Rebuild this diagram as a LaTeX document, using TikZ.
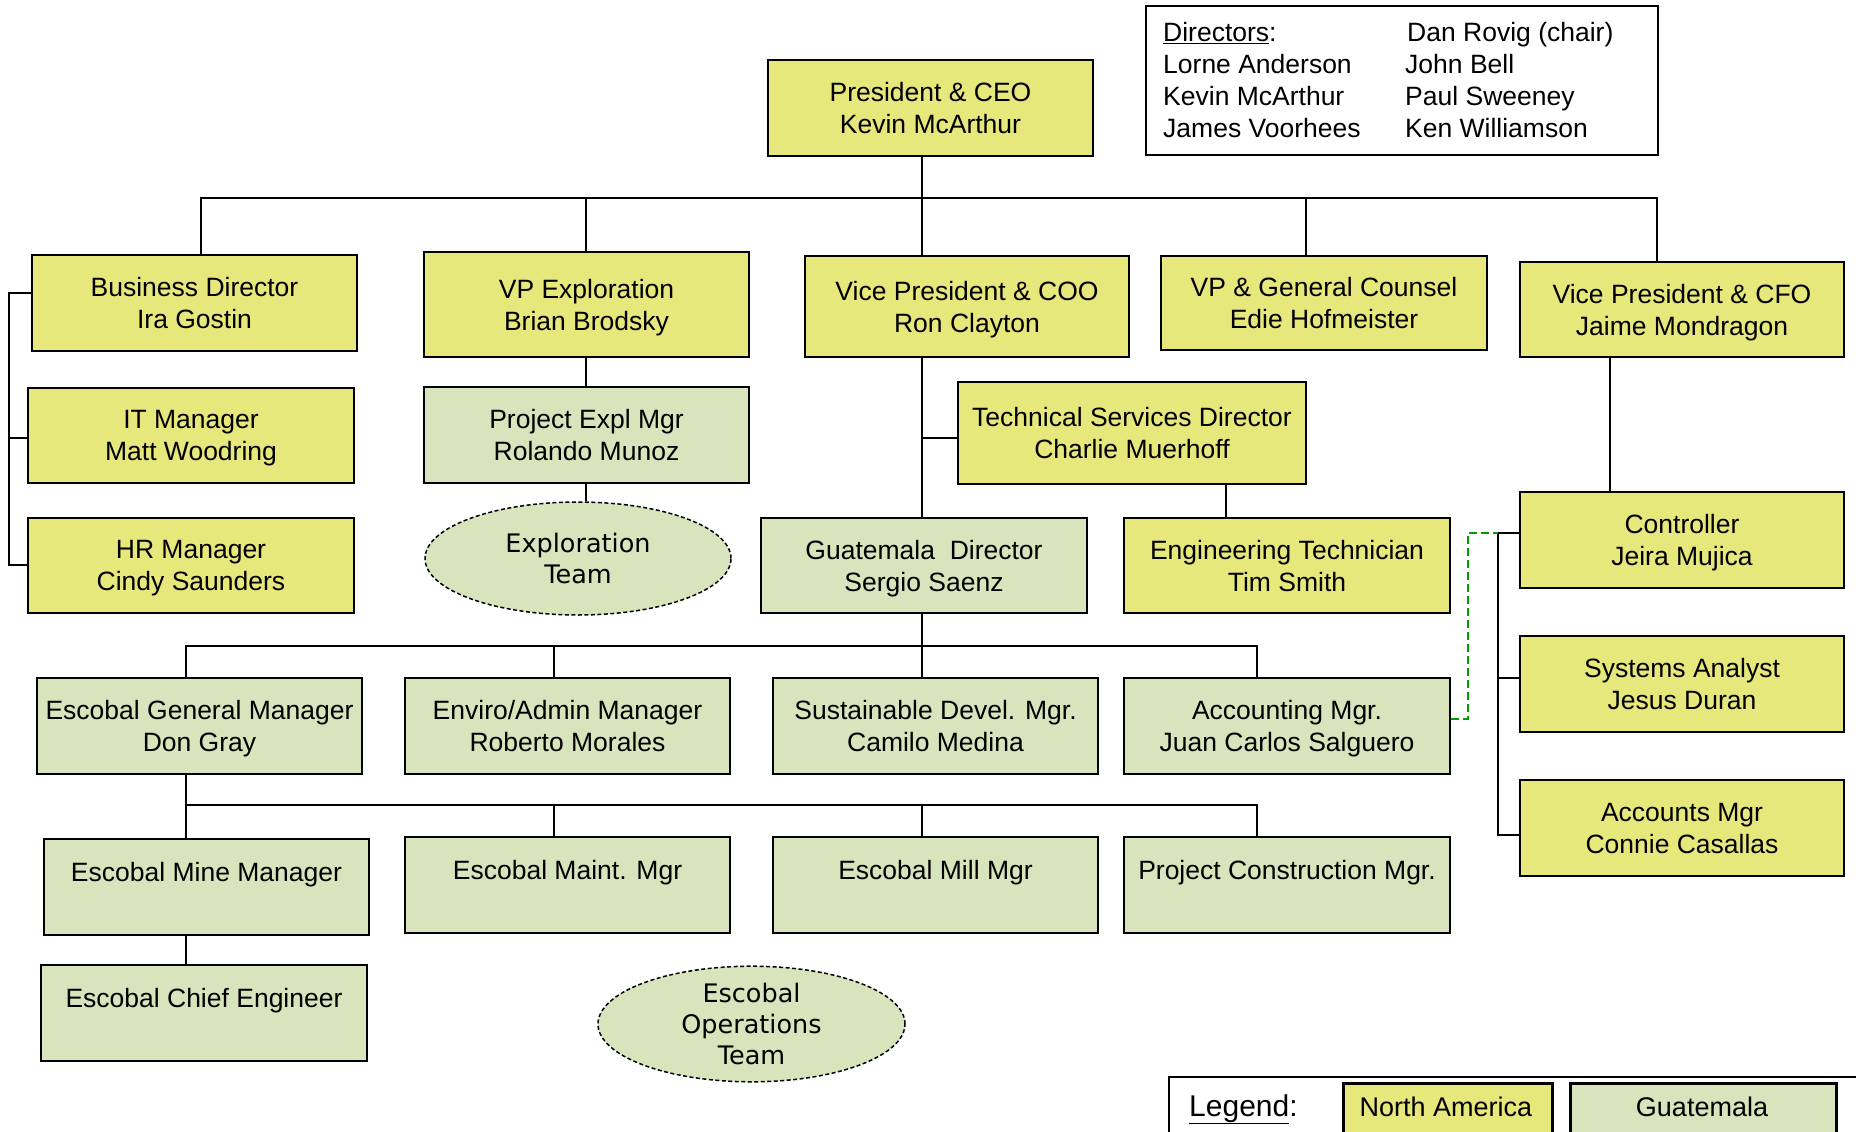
\documentclass[tikz,border=0pt]{standalone}
\usepackage{fontspec}
\setmainfont{Liberation Sans}
\newfontfamily\ellfont{DejaVu Sans}
\usetikzlibrary{shapes.geometric}
\definecolor{nayel}{RGB}{230,232,124}
\definecolor{gtgrn}{RGB}{216,228,188}
\definecolor{dashgrn}{RGB}{0,158,0}
\begin{document}
\begin{tikzpicture}[x=1pt,y=-1pt,
  box/.style={draw=black, line width=2.6pt, rectangle, minimum width=325pt, minimum height=96pt,
    align=center, font=\fontsize{26.5}{32}\selectfont, inner sep=0pt, text depth=0pt},
  na/.style={box, fill=nayel},
  gt/.style={box, fill=gtgrn},
  oneline/.style={text height=20pt, text depth=31pt},
  team/.style={ellipse, draw=black, dash pattern=on 4pt off 2.5pt, line width=1.5pt, fill=gtgrn,
    align=center, font=\ellfont\fontsize{25.5}{31}\selectfont, inner sep=0pt},
  link/.style={draw=black, line width=2.6pt, line join=miter},
  dirtxt/.style={anchor=base west, inner sep=0pt, font=\fontsize{26.5}{32}\selectfont},
  legtxt/.style={anchor=base, inner sep=0pt, font=\fontsize{27}{32}\selectfont},
]
\useasboundingbox (0,0) rectangle (1856,1132);
\clip (0,0) rectangle (1856,1132);

% ---------- boxes ----------
\node[na, minimum height=96pt] (pres) at (930.5,108) {President \& CEO\\Kevin McArthur};

\node[na] (bus) at (194.5,303) {Business Director\\Ira Gostin};
\node[na, minimum height=105pt] (vpexp) at (586.5,304.5) {VP Exploration\\Brian Brodsky};
\node[na, minimum width=324pt, minimum height=101pt] (coo) at (967,306.5) {Vice President \& COO\\Ron Clayton};
\node[na, minimum width=326pt, minimum height=94pt] (gc) at (1324,303) {VP \& General Counsel\\Edie Hofmeister};
\node[na, minimum width=324pt, minimum height=95pt] (cfo) at (1682,309.5) {Vice President \& CFO\\Jaime Mondragon};

\node[na, minimum width=326pt, minimum height=95pt] (it) at (191,435.5) {IT Manager\\Matt Woodring};
\node[na, minimum width=326pt, minimum height=95pt] (hr) at (191,565.5) {HR Manager\\Cindy Saunders};

\node[gt] (pem) at (586.5,435) {Project Expl Mgr\\Rolando Munoz};
\node[team, minimum width=306pt, minimum height=113pt] (expl) at (578,558.5) {Exploration\\Team};

\node[na, minimum width=348pt, minimum height=102pt] (tsd) at (1132,433) {Technical Services Director\\Charlie Muerhoff};
\node[na, minimum width=326pt, minimum height=95pt] (eng) at (1287,565.5) {Engineering Technician\\Tim Smith};
\node[gt, minimum width=326pt, minimum height=95pt] (gd) at (924,565.5) {Guatemala\ \ Director\\Sergio Saenz};

\node[gt] (egm) at (199.5,726) {Escobal General Manager\\Don Gray};
\node[gt] (ea) at (567.5,726) {Enviro/Admin Manager\\Roberto Morales};
\node[gt] (sd) at (935.5,726) {Sustainable Devel. Mgr.\\Camilo Medina};
\node[gt, minimum width=326pt] (am) at (1287,726) {Accounting Mgr.\\Juan Carlos Salguero};

\node[gt, oneline] (emm) at (206.5,887) {Escobal Mine Manager};
\node[gt, oneline] (emaint) at (567.5,885) {Escobal Maint. Mgr};
\node[gt, oneline] (emill) at (935.5,885) {Escobal Mill Mgr};
\node[gt, oneline, minimum width=326pt] (pcm) at (1287,885) {Project Construction Mgr.};
\node[gt, oneline, minimum width=326pt] (ece) at (204,1013) {Escobal Chief Engineer};
\node[team, minimum width=307pt, minimum height=112pt] (eot) at (751.5,1024) {Escobal\\Operations\\Team};

\node[na, minimum width=324pt] (ctrl) at (1682,540) {Controller\\Jeira Mujica};
\node[na, minimum width=324pt] (sa) at (1682,684) {Systems Analyst\\Jesus Duran};
\node[na, minimum width=324pt] (acm) at (1682,828) {Accounts Mgr\\Connie Casallas};

% ---------- directors ----------
\node[draw=black, line width=2pt, minimum width=512pt, minimum height=149pt, anchor=north west, inner sep=0pt] (dirs) at (1145,5) {};
\node[dirtxt] (d1) at (1163,42) {\underline{Directors}:};
\node[dirtxt] (d2) at (1163,73.7) {Lorne Anderson};
\node[dirtxt] (d3) at (1163,105.3) {Kevin McArthur};
\node[dirtxt] (d4) at (1163,137) {James Voorhees};
\node[dirtxt] (d5) at (1407,42) {Dan Rovig (chair)};
\node[dirtxt] (d6) at (1405,73.7) {John Bell};
\node[dirtxt] (d7) at (1405,105.3) {Paul Sweeney};
\node[dirtxt] (d8) at (1405,137) {Ken Williamson};

% ---------- junction coordinates ----------
\coordinate (tl) at (201,198);
\coordinate (tr) at (1657,198);
\coordinate (tp) at (922,198);
\coordinate (bl) at (9,293);
\coordinate (bm) at (9,438);
\coordinate (bb) at (9,565);
\coordinate (cj) at (922,438);
\coordinate (gl) at (186,646);
\coordinate (gr) at (1257,646);
\coordinate (gm) at (922,646);
\coordinate (el) at (186,805);
\coordinate (er) at (1257,805);
\coordinate (rt) at (1498,533);
\coordinate (rm) at (1498,678);
\coordinate (rb) at (1498,835);
\coordinate (dk) at (1468,719);

% ---------- connectors ----------
\draw[link] (pres.south -| tp) -- (tp);
\draw[link] (bus.north -| tl) -- (tl) -- (tr) -- (cfo.north -| tr);
\draw[link] (tp -| 586,0) -- (vpexp.north -| 586,0);
\draw[link] (tp) -- (coo.north -| tp);
\draw[link] (tp -| 1306,0) -- (gc.north -| 1306,0);
\draw[link] (bus.west |- bl) -- (bl) -- (bb) -- (hr.west |- bb);
\draw[link] (bm) -- (it.west |- bm);
\draw[link] (vpexp.south -| 586,0) -- (pem.north -| 586,0);
\draw[link] (pem.south -| 586,0) -- (expl.north -| 586,0);
\draw[link] (coo.south -| cj) -- (gd.north -| cj);
\draw[link] (cj) -- (tsd.west |- cj);
\draw[link] (tsd.south -| 1226,0) -- (eng.north -| 1226,0);
\draw[link] (gd.south -| gm) -- (gm);
\draw[link] (egm.north -| gl) -- (gl) -- (gr) -- (am.north -| gr);
\draw[link] (gm -| 554,0) -- (ea.north -| 554,0);
\draw[link] (gm) -- (sd.north -| gm);
\draw[link] (egm.south -| el) -- (el) -- (er) -- (pcm.north -| er);
\draw[link] (el) -- (emm.north -| el);
\draw[link] (el -| 554,0) -- (emaint.north -| 554,0);
\draw[link] (el -| 922,0) -- (emill.north -| 922,0);
\draw[link] (emm.south -| el) -- (ece.north -| el);
\draw[link] (cfo.south -| 1610,0) -- (ctrl.north -| 1610,0);
\draw[link] (ctrl.west |- rt) -- (rt) -- (rb) -- (acm.west |- rb);
\draw[link] (rm) -- (sa.west |- rm);
\draw[dashgrn, line width=2.5pt, dash pattern=on 8pt off 4pt] (am.east |- dk) -- (dk) -- (dk |- rt) -- (rt);

% ---------- legend ----------
\node[draw=black, line width=2pt, minimum width=760pt, minimum height=120pt, anchor=north west, inner sep=0pt] (leg) at (1168,1076) {};
\node[na, line width=2.5pt, minimum width=209pt, minimum height=80pt, anchor=north west] (lna) at (1342,1082) {};
\node[gt, line width=2.5pt, minimum width=266pt, minimum height=80pt, anchor=north west] (lgt) at (1569,1082) {};
\node[legtxt, anchor=base west, font=\fontsize{30}{34}\selectfont] (legt) at (1189,1116) {\underline{Legend}:};
\node[legtxt] (lnat) at (1446,1116) {North America};
\node[legtxt] (lgtt) at (1702,1116) {Guatemala};
\end{tikzpicture}
\end{document}
